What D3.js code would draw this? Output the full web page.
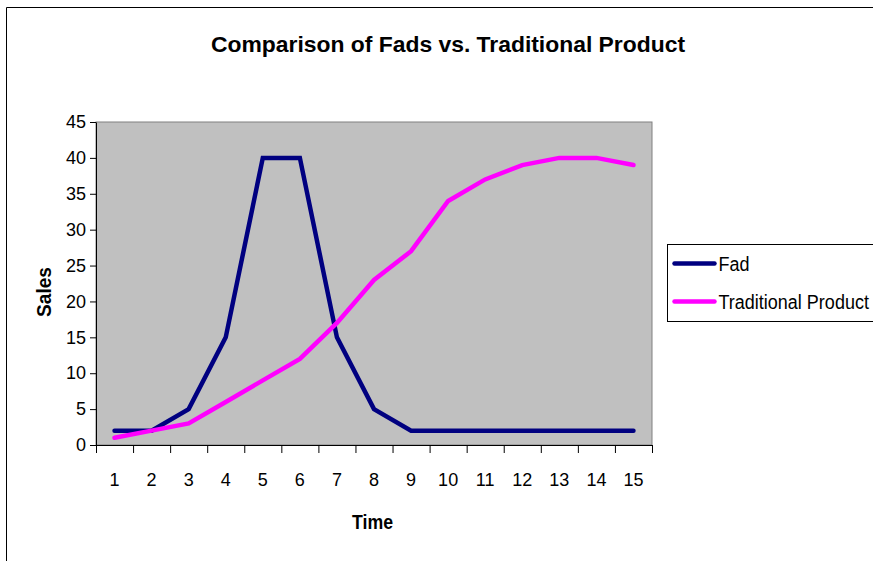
<!DOCTYPE html>
<html>
<head>
<meta charset="utf-8">
<script src="https://cdn.jsdelivr.net/npm/d3@7"></script>
<style>
  body { margin: 0; background: #fff; }
  text { font-family: "Liberation Sans Narrow", "Arial Narrow", "Liberation Sans", sans-serif; }
</style>
</head>
<body>
<svg id="chart" width="873" height="561"></svg>
<script>
const timeLabels = ['1', '2', '3', '4', '5', '6', '7', '8', '9', '10', '11', '12', '13', '14', '15'];
const fadSales = [2, 2, 5, 15, 40, 40, 15, 5, 2, 2, 2, 2, 2, 2, 2];
const traditionalSales = [1, 2, 3, 6, 9, 12, 17, 23, 27, 34, 37, 39, 40, 40, 39];
const yTicks = [0, 5, 10, 15, 20, 25, 30, 35, 40, 45];
const seriesNames = ['Fad', 'Traditional Product'];
const seriesColors = ['#000080', '#FF00FF'];

const svg = d3.select('#chart');
const margin = { top: 122, left: 96 };
const width = 556;
const height = 323;

// outer chart border (cropped on right/bottom)
svg.append('path')
  .attr('d', 'M6.5,561 V7.5 H873')
  .attr('fill', 'none')
  .attr('stroke', '#000')
  .attr('stroke-width', 1);

svg.append('text')
  .attr('x', 211)
  .attr('y', 52)
  .attr('textLength', 474)
  .attr('lengthAdjust', 'spacingAndGlyphs')
  .style('font-size', '22px')
  .style('font-weight', 'bold')
  .text('Comparison of Fads vs. Traditional Product');

const g = svg.append('g')
  .attr('transform', `translate(${margin.left}, ${margin.top})`);

const x = d3.scaleBand().domain(timeLabels).range([0, width]).padding(0);
const xEdge = d3.scaleLinear().domain([0, timeLabels.length]).range([0, width]);
const y = d3.scaleLinear().domain([0, 45]).range([height, 0]);

g.append('rect')
  .attr('width', width)
  .attr('height', height)
  .attr('fill', '#C0C0C0')
  .attr('stroke', '#808080')
  .attr('stroke-width', 1);

// y axis
const yAxis = g.append('g')
  .call(d3.axisLeft(y).tickValues(yTicks).tickSize(6).tickPadding(4).tickSizeOuter(0));
yAxis.selectAll('text').style('font-size', '18px').style('font-family', '"Liberation Sans Narrow", sans-serif');

// x axis: boundary ticks + centred labels
const xTicks = g.append('g')
  .attr('transform', `translate(0, ${height})`)
  .call(d3.axisBottom(xEdge).tickValues(d3.range(0, timeLabels.length + 1)).tickSize(8).tickFormat('').tickSizeOuter(0));
const xLabels = g.append('g')
  .attr('transform', `translate(0, ${height})`)
  .call(d3.axisBottom(x).tickSize(0).tickPadding(28));
xLabels.select('.domain').remove();
xLabels.selectAll('text').style('font-size', '18px').style('font-family', '"Liberation Sans Narrow", sans-serif');
[yAxis, xTicks].forEach(a => a.selectAll('path, line').attr('stroke', '#000'));

svg.append('text')
  .attr('x', 352)
  .attr('y', 529)
  .attr('textLength', 41)
  .attr('lengthAdjust', 'spacingAndGlyphs')
  .style('font-size', '21px')
  .style('font-weight', 'bold')
  .text('Time');

svg.append('text')
  .attr('transform', 'translate(51, 317) rotate(-90)')
  .attr('textLength', 50)
  .attr('lengthAdjust', 'spacingAndGlyphs')
  .style('font-size', '21px')
  .style('font-weight', 'bold')
  .text('Sales');

const line = d3.line()
  .x((d, i) => x(timeLabels[i]) + x.bandwidth() / 2)
  .y(d => y(d));

[fadSales, traditionalSales].forEach((series, i) => {
  g.append('path')
    .datum(series)
    .attr('fill', 'none')
    .attr('stroke', seriesColors[i])
    .attr('stroke-width', 4.5)
    .attr('stroke-linejoin', 'miter')
    .attr('stroke-linecap', 'round')
    .attr('d', line);
});

// legend
const legend = svg.append('g').attr('transform', 'translate(667.5, 244.5)');
legend.append('rect')
  .attr('width', 210)
  .attr('height', 77)
  .attr('fill', '#fff')
  .attr('stroke', '#000')
  .attr('stroke-width', 1);
seriesNames.forEach((name, i) => {
  const row = legend.append('g').attr('transform', `translate(0, ${19 + i * 38})`);
  row.append('line')
    .attr('x1', 7).attr('x2', 47)
    .attr('stroke', seriesColors[i])
    .attr('stroke-width', 4.5)
    .attr('stroke-linecap', 'round');
  row.append('text')
    .attr('transform', 'translate(51, 0) scale(1, 1.12)')
    .attr('dy', '0.35em')
    .style('font-size', '18px')
    .text(name);
});
</script>
</body>
</html>
